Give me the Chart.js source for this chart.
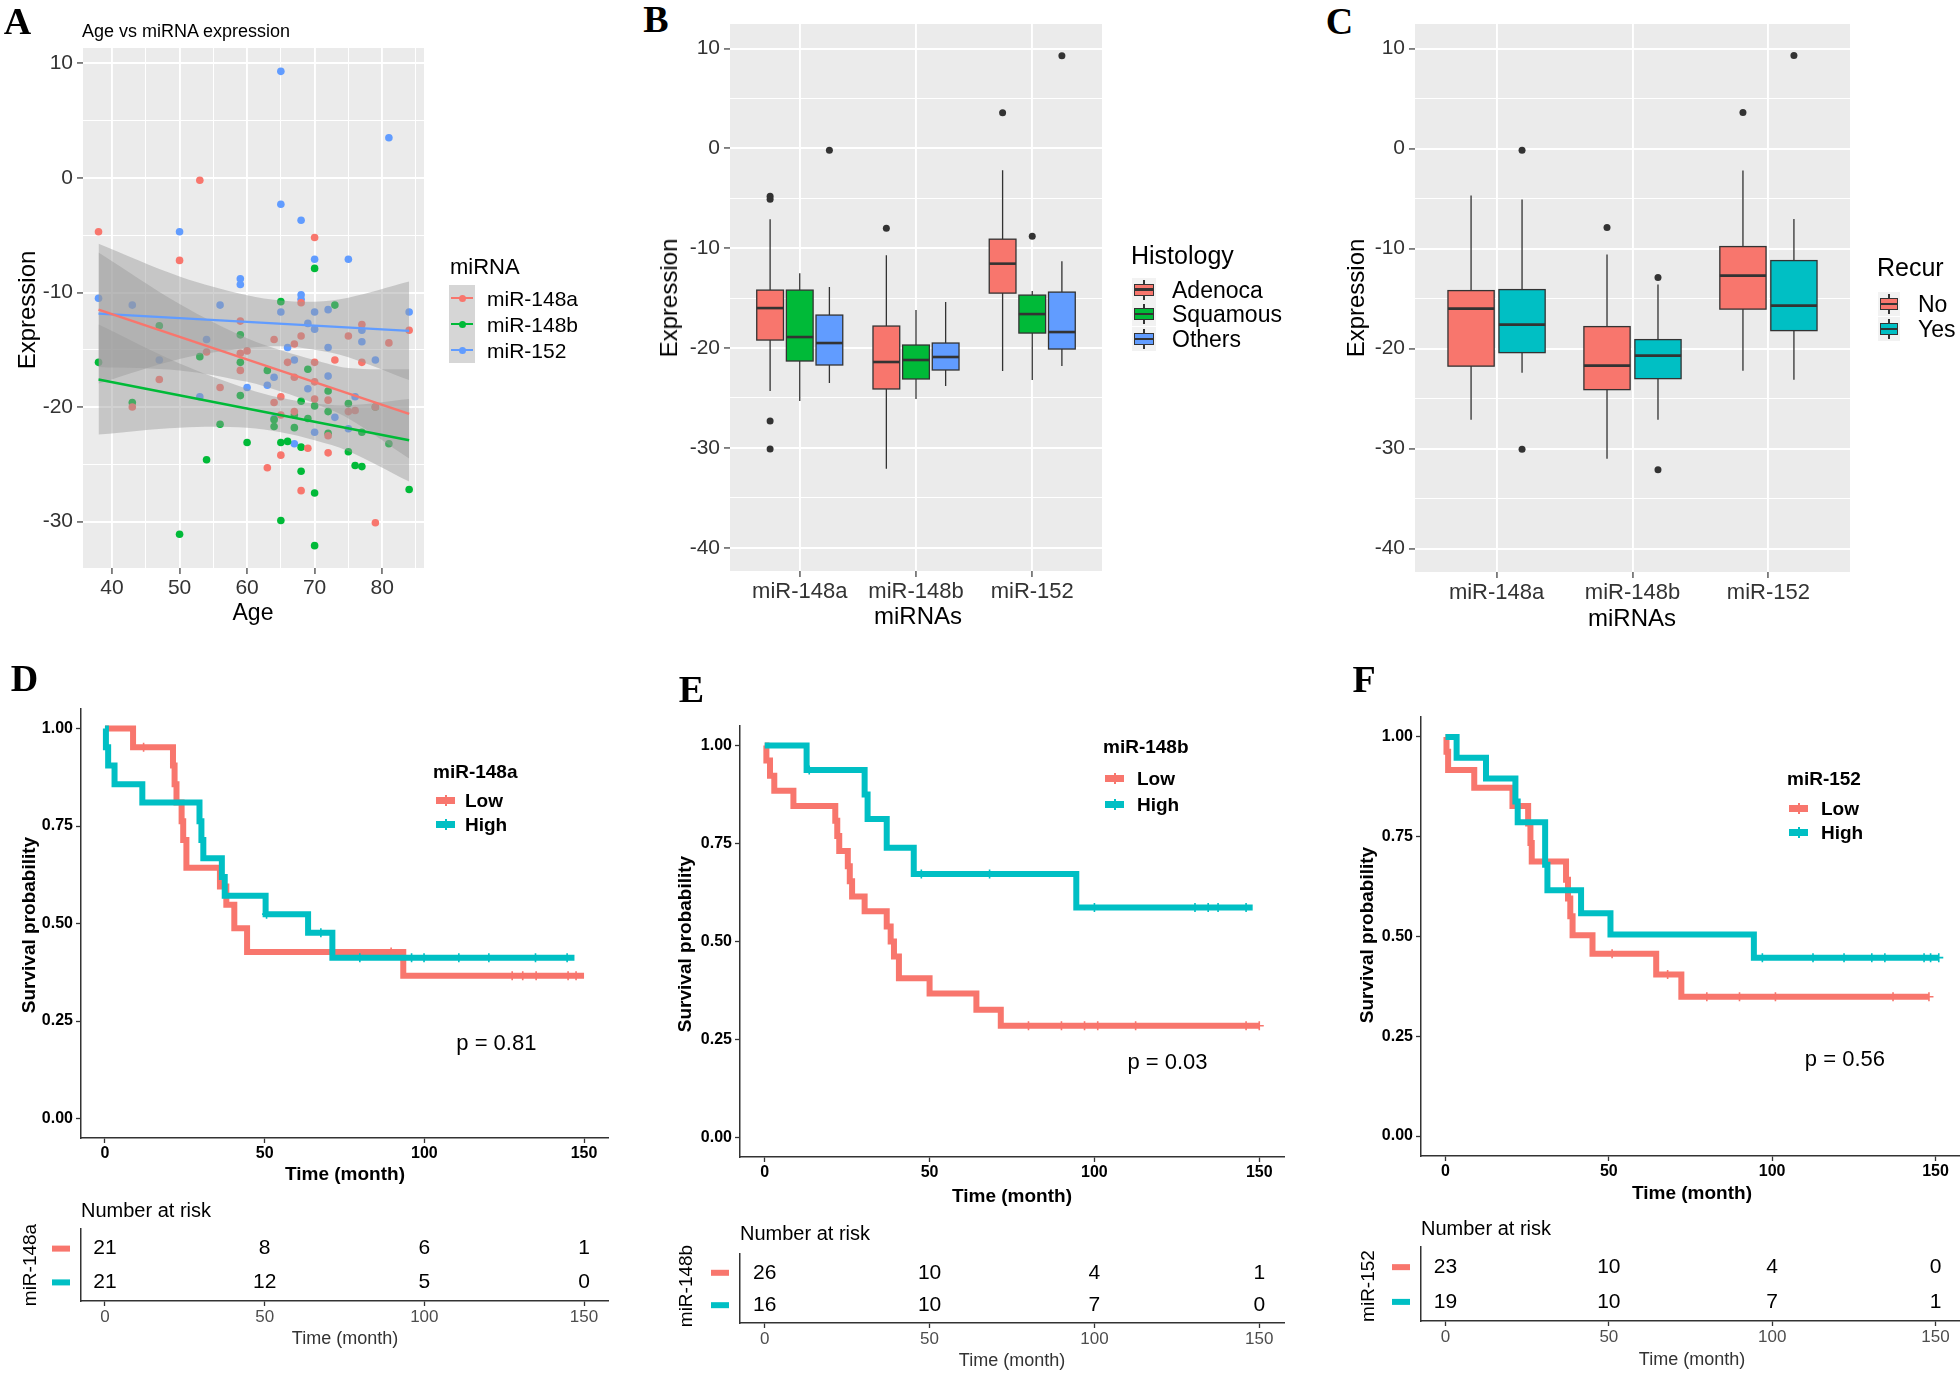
<!DOCTYPE html>
<html>
<head>
<meta charset="utf-8">
<script src="https://cdn.jsdelivr.net/npm/chart.js@4.4.1/dist/chart.umd.min.js"></script>
<style>
  html, body { margin: 0; padding: 0; background: #fff; overflow: hidden; }
  #fig { position: relative; width: 1960px; height: 1374px; overflow: hidden; }
  canvas { position: absolute; }
  .t { position: absolute; white-space: nowrap; color: #000; }
  .k { position: absolute; }
</style>
</head>
<body>
<div id="fig">
  <canvas id="cA"></canvas>
  <canvas id="cB"></canvas>
  <canvas id="cC"></canvas>
  <canvas id="cD"></canvas>
  <canvas id="cDT"></canvas>
  <canvas id="cE"></canvas>
  <canvas id="cET"></canvas>
  <canvas id="cF"></canvas>
  <canvas id="cFT"></canvas>
</div>
<script>
// ── Colours ──
const RED = '#F8766D', GREEN = '#00BA38', BLUE = '#619CFF', TEAL = '#00BFC4';
const BAND = 'rgba(153, 153, 153, 0.45)';
const SANS = "'Liberation Sans', Arial, sans-serif";

// ── Panel A: age vs expression ──
const age148a = [38, 50, 53, 43, 47, 54, 56, 59, 59, 59, 60, 63, 64, 64, 65, 65, 65, 66, 67, 67, 67, 68, 68, 68, 69, 70, 70, 70, 70, 72, 72, 72, 73, 75, 75, 76, 77, 77, 79, 79, 81, 84];
const expr148a = [-4.7, -7.2, -0.2, -20, -17.6, -15.2, -18.3, -12.5, -15.3, -16.8, -15.1, -25.3, -14.1, -19.6, -19.1, -20.7, -24.2, -16.1, -14.5, -17.4, -20.4, -13.8, -10.9, -27.3, -23.6, -5.2, -16.1, -17.8, -19.3, -22.5, -24, -19.4, -15.9, -13.8, -20.4, -20.3, -12.8, -16.1, -20, -30.1, -14.4, -13.3];
const age148b = [38, 43, 47, 50, 53, 54, 56, 59, 59, 59, 60, 63, 64, 64, 65, 65, 65, 66, 67, 67, 68, 68, 68, 69, 69, 70, 70, 70, 70, 72, 72, 72, 73, 75, 75, 76, 77, 77, 79, 81, 84];
const expr148b = [-16.1, -19.6, -12.9, -31.1, -15.6, -24.6, -21.5, -13.7, -16.1, -19, -23.1, -16.8, -21.7, -21.1, -10.8, -23.1, -29.9, -23, -20.7, -21.8, -19.5, -23.5, -25.6, -16.7, -21, -7.9, -19.9, -27.5, -32.1, -18.6, -20.4, -22.3, -11.1, -19.7, -23.9, -25.1, -25.2, -22.2, -20, -23.2, -27.2];
const age152 = [38, 43, 47, 50, 53, 54, 56, 59, 59, 60, 63, 64, 64, 65, 65, 65, 66, 67, 67, 68, 68, 68, 69, 69, 70, 70, 70, 70, 72, 72, 72, 73, 75, 75, 76, 77, 77, 79, 81, 84];
const expr152 = [-10.5, -11.1, -15.9, -4.7, -19.1, -14.1, -11.1, -8.8, -9.3, -18.3, -18.1, -17.4, -21, 9.3, -2.3, -11.7, -14.8, -15.9, -23.2, -3.7, -10.2, -10.6, -12.7, -18.4, -7.1, -11.7, -13.2, -22.2, -11.5, -14.8, -17.3, -20.9, -7.1, -21.9, -19.1, -13.3, -14.3, -15.9, 3.5, -11.7];

// fitted lines and their confidence bands
const fitAges = [38, 84];
const fit148a = [-11.5, -20.6];
const fit148b = [-17.6, -22.9];
const fit152 = [-11.85, -13.35];
const bandAges = [38, 50, 60, 65, 70, 75, 84];
const up148a = [-6.5, -11.0, -14.0, -15.05, -15.9, -16.6, -16.7];
const lo148a = [-16.5, -16.8, -17.8, -18.65, -19.7, -21.0, -24.5];
const up148b = [-12.8, -16.2, -18.4, -19.2, -19.7, -19.85, -19.3];
const lo148b = [-22.4, -21.8, -21.8, -22.2, -22.9, -23.85, -26.5];
const up152 = [-5.75, -8.6, -10.25, -10.7, -10.8, -10.45, -9.05];
const lo152 = [-17.95, -15.8, -14.85, -14.7, -15.0, -15.65, -17.65];

// ── Panels B and C: box plots ──
const mirnas = ['miR-148a', 'miR-148b', 'miR-152'];
// Histology (B)
const adenoLo = [-24.3, -32.1, -22.3], adenoQ1 = [-19.2, -24.1, -14.5], adenoMed = [-16.0, -21.4, -11.55], adenoQ3 = [-14.2, -17.8, -9.1], adenoHi = [-7.1, -10.7, -2.2];
const squamLo = [-25.3, -25.1, -23.2], squamQ1 = [-21.3, -23.1, -18.5], squamMed = [-18.9, -21.2, -16.6], squamQ3 = [-14.2, -19.7, -14.7], squamHi = [-12.5, -16.2, -14.3];
const otherLo = [-23.5, -23.8, -21.8], otherQ1 = [-21.7, -22.2, -20.1], otherMed = [-19.5, -20.9, -18.4], otherQ3 = [-16.7, -19.5, -14.4], otherHi = [-13.9, -15.4, -11.3];
const adenoOutCat = [0, 0, 0, 0, 1, 2], adenoOutVal = [-4.8, -5.1, -27.3, -30.1, -8.0, 3.55];
const squamOutCat = [2], squamOutVal = [-8.8];
const otherOutCat = [0, 2], otherOutVal = [-0.2, 9.27];
// Recurrence (C)
const noLo = [-27.1, -31.0, -22.2], noQ1 = [-21.75, -24.1, -16.05], noMed = [-16.0, -21.7, -12.7], noQ3 = [-14.2, -17.8, -9.8], noHi = [-4.7, -10.6, -2.2];
const yesLo = [-22.4, -27.1, -23.1], yesQ1 = [-20.4, -23.0, -18.2], yesMed = [-17.6, -20.7, -15.7], yesQ3 = [-14.1, -19.1, -11.2], yesHi = [-5.1, -13.6, -7.05];
const noOutCat = [1, 2], noOutVal = [-7.9, 3.6];
const yesOutCat = [0, 0, 1, 1, 2], yesOutVal = [-0.16, -30.06, -12.9, -32.1, 9.3];

// ── Panels D-F: Kaplan-Meier steps (time in months, survival) ──
const dLowT = [0, 8.8, 21.3, 21.8, 22.4, 24.0, 24.5, 25.5, 36.0, 38.0, 40.5, 44.5, 93.4, 150];
const dLowS = [1.0, 0.952, 0.905, 0.857, 0.810, 0.762, 0.714, 0.643, 0.595, 0.548, 0.488, 0.427, 0.366, 0.366];
const dHighT = [0, 0.3, 1.0, 3.0, 11.7, 29.6, 30.2, 30.8, 36.6, 37.5, 50.3, 63.6, 71.2, 147];
const dHighS = [1.0, 0.952, 0.905, 0.857, 0.810, 0.762, 0.714, 0.667, 0.619, 0.571, 0.524, 0.476, 0.412, 0.412];
const dLowCensT = [12.1, 89.6, 127.5, 130.8, 135, 145, 147.5];
const dLowCensS = [0.952, 0.427, 0.366, 0.366, 0.366, 0.366, 0.366];
const dHighCensT = [50.6, 67.6, 79.8, 96, 99.9, 110.8, 120.2, 134.8, 144.7];
const dHighCensS = [0.524, 0.476, 0.412, 0.412, 0.412, 0.412, 0.412, 0.412, 0.412];

const eLowT = [0, 0.5, 1.6, 2.9, 8.7, 21.4, 22.0, 22.6, 25.2, 25.8, 26.5, 30.3, 37.0, 38.2, 39.2, 40.7, 50.0, 64.2, 71.6, 150];
const eLowS = [1.0, 0.962, 0.923, 0.885, 0.846, 0.808, 0.769, 0.731, 0.692, 0.654, 0.615, 0.577, 0.538, 0.500, 0.462, 0.406, 0.367, 0.326, 0.285, 0.285];
const eHighT = [0, 12.7, 30.3, 31.2, 37.0, 45.2, 94.5, 148];
const eHighS = [1.0, 0.938, 0.875, 0.8125, 0.739, 0.672, 0.587, 0.587];
const eLowCensT = [80, 90, 97, 101, 112.5, 146, 150];
const eLowCensS = [0.285, 0.285, 0.285, 0.285, 0.285, 0.285, 0.285];
const eHighCensT = [13.5, 47.5, 68.2, 100, 130.5, 134.5, 137.5, 146];
const eHighCensS = [0.938, 0.672, 0.672, 0.587, 0.587, 0.587, 0.587, 0.587];

const fLowT = [0, 0.3, 0.8, 8.8, 20.5, 25.3, 26.0, 26.4, 36.9, 37.5, 38.2, 38.9, 45.0, 64.5, 72.2, 148];
const fLowS = [1.0, 0.963, 0.917, 0.873, 0.827, 0.783, 0.734, 0.688, 0.642, 0.595, 0.551, 0.503, 0.457, 0.405, 0.349, 0.349];
const fHighT = [0, 3.4, 12.4, 21.4, 22.1, 30.5, 31.2, 41.5, 50.5, 94.4, 151];
const fHighS = [1.0, 0.948, 0.896, 0.838, 0.786, 0.680, 0.616, 0.558, 0.505, 0.447, 0.447];
const fLowCensT = [51, 68, 80, 90, 101, 137, 148];
const fLowCensS = [0.457, 0.405, 0.349, 0.349, 0.349, 0.349, 0.349];
const fHighCensT = [97, 112.5, 122, 130.5, 134.5, 146.5, 148.5, 151];
const fHighCensS = [0.447, 0.447, 0.447, 0.447, 0.447, 0.447, 0.447, 0.447];

// numbers at risk
const riskTimes = [0, 50, 100, 150];
const dRiskLow = [21, 8, 6, 1], dRiskHigh = [21, 12, 5, 0];
const eRiskLow = [26, 10, 4, 1], eRiskHigh = [16, 10, 7, 0];
const fRiskLow = [23, 10, 4, 0], fRiskHigh = [19, 10, 7, 1];
const pvalues = ['p = 0.81', 'p = 0.03', 'p = 0.56'];
const pvalAt = [110, 0.19];

// ── Chart.js defaults ──
Chart.defaults.font.family = SANS;
Chart.defaults.color = '#333';
Chart.defaults.animation = false;
Chart.defaults.responsive = false;
Chart.defaults.maintainAspectRatio = false;
Chart.defaults.plugins.legend.display = false;
Chart.defaults.plugins.tooltip.enabled = false;

// grey panel behind the plot area
const panelBg = {
  id: 'panelBg',
  beforeDraw(chart, args, opts) {
    if (!opts.color) return;
    const a = chart.chartArea, ctx = chart.ctx;
    ctx.save();
    ctx.fillStyle = opts.color;
    ctx.fillRect(a.left, a.top, a.width, a.height);
    ctx.restore();
  }
};

// ggplot-like axis: white major/minor grid, labels on majors only
function ggScale(min, max, step, major, fmt, size, fit, axis) {
  const isMajor = v => Math.abs(v / major - Math.round(v / major)) < 1e-6;
  return {
    type: 'linear', min, max,
    afterFit: s => { if (axis === 'x') s.height = fit; else s.width = fit; },
    ticks: {
      stepSize: step, includeBounds: false, autoSkip: false, maxRotation: 0,
      color: '#333', padding: axis === 'x' ? 2 : 4, font: { size },
      callback: v => isMajor(v) ? fmt(v) : ''
    },
    grid: {
      color: '#FFFFFF',
      lineWidth: c => (c.tick && !isMajor(c.tick.value)) ? 1 : 1.9,
      tickLength: 6, tickWidth: 1.2,
      tickColor: c => (c.tick && !isMajor(c.tick.value)) ? 'rgba(0,0,0,0)' : '#333'
    },
    border: { display: false }
  };
}

// survminer-like axis: plain axis line with ticks
function kmScale(min, max, step, fmt, font, color, fit, axis, showTicks = true) {
  return {
    type: 'linear', min, max,
    afterFit: s => { if (axis === 'x') s.height = fit; else s.width = fit; },
    ticks: {
      display: showTicks, stepSize: step, includeBounds: false, autoSkip: false, maxRotation: 0,
      color, padding: axis === 'x' ? 1 : 3, font, callback: fmt
    },
    grid: { drawOnChartArea: false, drawTicks: showTicks, tickLength: 5, tickWidth: 1.3, tickColor: '#333' },
    border: { display: true, color: '#333', width: 1.5 }
  };
}

function pts(xs, ys) { return xs.map((x, i) => ({ x, y: ys[i] })); }

// build the chart twice: once to learn its margins, then sized so the plot area lands on box
function placeChart(id, box, build) {
  const cv = document.getElementById(id);
  cv.width = 400; cv.height = 300;
  const probe = new Chart(cv, build());
  const a = probe.chartArea;
  const ml = a.left, mt = a.top, mr = probe.width - a.right, mb = probe.height - a.bottom;
  probe.destroy();
  const w = Math.round(box[2] - box[0] + ml + mr), h = Math.round(box[3] - box[1] + mt + mb);
  cv.width = w; cv.height = h;
  cv.style.width = w + 'px'; cv.style.height = h + 'px';
  cv.style.left = (box[0] - ml) + 'px';
  cv.style.top = (box[1] - mt) + 'px';
  return new Chart(cv, build());
}

// ── Panel A ──
function bandEdge(ys, fill) {
  return { type: 'line', data: pts(bandAges, ys), borderWidth: 0, pointRadius: 0, tension: 0.35,
           fill, backgroundColor: BAND, order: 2 };
}
function fitLine(ys, color) {
  return { type: 'line', data: pts(fitAges, ys), borderColor: color, borderWidth: 2.4, pointRadius: 0, order: 1 };
}
function dots(xs, ys, color) {
  return { type: 'scatter', data: pts(xs, ys), backgroundColor: color, borderWidth: 0, pointRadius: 3.8, order: 3 };
}

placeChart('cA', [83, 48, 424, 568], () => ({
  type: 'scatter',
  data: { datasets: [
    dots(age148a, expr148a, RED), dots(age148b, expr148b, GREEN), dots(age152, expr152, BLUE),
    fitLine(fit148a, RED), fitLine(fit148b, GREEN), fitLine(fit152, BLUE),
    bandEdge(up148a, false), bandEdge(lo148a, '-1'),
    bandEdge(up148b, false), bandEdge(lo148b, '-1'),
    bandEdge(up152, false), bandEdge(lo152, '-1')
  ] },
  options: {
    layout: { padding: { top: 20, right: 30 } },
    scales: {
      x: ggScale(35.7, 86.2, 5, 10, v => String(v), 21, 40, 'x'),
      y: ggScale(-34.05, 11.34, 5, 10, v => String(v), 21, 60, 'y')
    },
    plugins: { panelBg: { color: '#EBEBEB' } }
  },
  plugins: [panelBg]
}));

// ── Panels B, C ──
function boxPlugin(groups) {
  return {
    id: 'boxes',
    beforeDatasetsDraw(chart) {
      const { ctx, scales: { x, y } } = chart;
      ctx.save();
      ctx.strokeStyle = '#333';
      groups.forEach(g => {
        g.med.forEach((m, i) => {
          const c = i + 1 + g.offset;
          const xl = x.getPixelForValue(c - g.width / 2), xr = x.getPixelForValue(c + g.width / 2), xc = x.getPixelForValue(c);
          const top = y.getPixelForValue(g.q3[i]), bot = y.getPixelForValue(g.q1[i]);
          ctx.lineWidth = 1.3;
          ctx.beginPath();
          ctx.moveTo(xc, y.getPixelForValue(g.hi[i])); ctx.lineTo(xc, top);
          ctx.moveTo(xc, bot); ctx.lineTo(xc, y.getPixelForValue(g.lo[i]));
          ctx.stroke();
          ctx.fillStyle = g.color;
          ctx.fillRect(xl, top, xr - xl, bot - top);
          ctx.strokeRect(xl, top, xr - xl, bot - top);
          ctx.lineWidth = 2.6;
          ctx.beginPath();
          const ym = y.getPixelForValue(m);
          ctx.moveTo(xl, ym); ctx.lineTo(xr, ym);
          ctx.stroke();
        });
      });
      ctx.restore();
    }
  };
}

function boxChart(groups) {
  return () => ({
    type: 'scatter',
    data: { datasets: groups.map(g => ({
      data: g.outCat.map((c, i) => ({ x: c + 1 + g.offset, y: g.outVal[i] })),
      backgroundColor: '#333', borderWidth: 0, pointRadius: 3.5
    })) },
    options: {
      layout: { padding: { top: 20, right: 30 } },
      scales: {
        x: ggScale(0.4, 3.6, 1, 1, v => mirnas[v - 1], 22, 40, 'x'),
        y: ggScale(-42.33, 12.45, 5, 10, v => String(v), 21, 60, 'y')
      },
      plugins: { panelBg: { color: '#EBEBEB' } }
    },
    plugins: [panelBg, boxPlugin(groups)]
  });
}

placeChart('cB', [729.5, 24, 1101, 571], boxChart([
  { color: RED, offset: -0.255, width: 0.23, lo: adenoLo, q1: adenoQ1, med: adenoMed, q3: adenoQ3, hi: adenoHi, outCat: adenoOutCat, outVal: adenoOutVal },
  { color: GREEN, offset: 0, width: 0.23, lo: squamLo, q1: squamQ1, med: squamMed, q3: squamQ3, hi: squamHi, outCat: squamOutCat, outVal: squamOutVal },
  { color: BLUE, offset: 0.255, width: 0.23, lo: otherLo, q1: otherQ1, med: otherMed, q3: otherQ3, hi: otherHi, outCat: otherOutCat, outVal: otherOutVal }
]));

placeChart('cC', [1415, 24, 1850, 572], boxChart([
  { color: RED, offset: -0.1875, width: 0.34, lo: noLo, q1: noQ1, med: noMed, q3: noQ3, hi: noHi, outCat: noOutCat, outVal: noOutVal },
  { color: TEAL, offset: 0.1875, width: 0.34, lo: yesLo, q1: yesQ1, med: yesMed, q3: yesQ3, hi: yesHi, outCat: yesOutCat, outVal: yesOutVal }
]));

// ── Panels D, E, F: survival curves ──
function pvalPlugin(text) {
  return {
    id: 'pval',
    afterDraw(chart) {
      const { ctx, scales: { x, y } } = chart;
      ctx.save();
      ctx.font = '22px ' + SANS;
      ctx.fillStyle = '#000';
      ctx.textAlign = 'left';
      ctx.textBaseline = 'middle';
      ctx.fillText(text, x.getPixelForValue(pvalAt[0]), y.getPixelForValue(pvalAt[1]));
      ctx.restore();
    }
  };
}

function kmChart(lowT, lowS, highT, highS, lowCT, lowCS, highCT, highCS, ptext) {
  const curve = (T, S, color) => ({ type: 'line', data: pts(T, S), stepped: 'before', borderColor: color,
                                    borderWidth: 6, pointRadius: 0, fill: false, borderCapStyle: 'butt' });
  const cens = (T, S, color) => ({ type: 'scatter', data: pts(T, S), pointStyle: 'cross', pointRadius: 4.5,
                                   borderColor: color, borderWidth: 1.6, backgroundColor: color });
  return () => ({
    type: 'scatter',
    data: { datasets: [
      cens(highCT, highCS, TEAL), curve(highT, highS, TEAL),
      cens(lowCT, lowCS, RED), curve(lowT, lowS, RED)
    ] },
    options: {
      layout: { padding: { top: 20, right: 30 } },
      scales: {
        x: kmScale(-7.5, 157.5, 50, v => String(v), { size: 16, weight: 'bold' }, '#000', 30, 'x'),
        y: kmScale(-0.05, 1.05, 0.25, v => v.toFixed(2), { size: 16, weight: 'bold' }, '#000', 60, 'y')
      }
    },
    plugins: [pvalPlugin(ptext)]
  });
}

function riskPlugin(low, high) {
  return {
    id: 'risk',
    afterDraw(chart) {
      const { ctx, scales: { x, y }, chartArea } = chart;
      ctx.save();
      ctx.font = '21px ' + SANS;
      ctx.fillStyle = '#000';
      ctx.textAlign = 'center';
      ctx.textBaseline = 'middle';
      riskTimes.forEach((t, i) => {
        ctx.fillText(String(low[i]), x.getPixelForValue(t), y.getPixelForValue(2));
        ctx.fillText(String(high[i]), x.getPixelForValue(t), y.getPixelForValue(1));
      });
      ctx.fillStyle = RED;
      ctx.fillRect(chartArea.left - 29, y.getPixelForValue(2) - 3, 18, 6);
      ctx.fillStyle = TEAL;
      ctx.fillRect(chartArea.left - 29, y.getPixelForValue(1) - 3, 18, 6);
      ctx.restore();
    }
  };
}

function riskChart(low, high) {
  return () => ({
    type: 'scatter',
    data: { datasets: [] },
    options: {
      layout: { padding: { top: 20, right: 30 } },
      scales: {
        x: kmScale(-7.5, 157.5, 50, v => String(v), { size: 17 }, '#4D4D4D', 30, 'x'),
        y: kmScale(0.45, 2.58, 1, v => '', { size: 12 }, '#000', 45, 'y', false)
      }
    },
    plugins: [riskPlugin(low, high)]
  });
}

placeChart('cD', [81, 709, 608, 1138], kmChart(dLowT, dLowS, dHighT, dHighS, dLowCensT, dLowCensS, dHighCensT, dHighCensS, pvalues[0]));
placeChart('cDT', [81, 1229, 608, 1301], riskChart(dRiskLow, dRiskHigh));
placeChart('cE', [740, 726, 1284, 1157], kmChart(eLowT, eLowS, eHighT, eHighS, eLowCensT, eLowCensS, eHighCensT, eHighCensS, pvalues[1]));
placeChart('cET', [740, 1253.6, 1284, 1323], riskChart(eRiskLow, eRiskHigh));
placeChart('cF', [1421, 716.5, 1960, 1155], kmChart(fLowT, fLowS, fHighT, fHighS, fLowCensT, fLowCensS, fHighCensT, fHighCensS, pvalues[2]));
placeChart('cFT', [1421, 1246.7, 1960, 1321], riskChart(fRiskLow, fRiskHigh));

// ── Text, titles and legends ──
const fig = document.getElementById('fig');
function txt(s, x, y, font, o = {}) {
  const d = document.createElement('div');
  d.className = 't';
  d.textContent = s;
  d.style.font = font;
  d.style.lineHeight = '1';
  d.style.left = x + 'px';
  d.style.top = y + 'px';
  if (o.color) d.style.color = o.color;
  d.style.transform = 'translate(' + (o.left ? '0' : '-50%') + ',-50%)' + (o.rot ? ' rotate(-90deg)' : '');
  fig.appendChild(d);
}
function rect(x, y, w, h, bg, extra = {}) {
  const d = document.createElement('div');
  d.className = 'k';
  Object.assign(d.style, { left: x + 'px', top: y + 'px', width: w + 'px', height: h + 'px', background: bg }, extra);
  fig.appendChild(d);
  return d;
}

const LETTER = "bold 38px 'Liberation Serif', 'Times New Roman', serif";
txt('A', 17.5, 21, LETTER);
txt('B', 656, 19, LETTER);
txt('C', 1339.5, 21, LETTER);
txt('D', 24.5, 678, LETTER);
txt('E', 691.5, 689, LETTER);
txt('F', 1364, 679, LETTER);

// A
txt('Age vs miRNA expression', 82, 31, '18px ' + SANS, { left: true });
txt('Expression', 27, 310, '24px ' + SANS, { rot: true });
txt('Age', 253, 612, '23px ' + SANS);
txt('miRNA', 450, 267, '22px ' + SANS, { left: true });
[['miR-148a', RED], ['miR-148b', GREEN], ['miR-152', BLUE]].forEach(([name, col], i) => {
  const cy = 298 + i * 26;
  rect(449, cy - 13, 26, 26, '#D6D6D6');
  rect(451, cy - 1, 22, 2.4, col);
  rect(458.5, cy - 3.5, 7, 7, col, { borderRadius: '50%' });
  txt(name, 487, cy, '21px ' + SANS, { left: true });
});

// B, C
function boxKey(x, cy, w, col) {
  rect(x, cy - 12, w, 24, '#F2F2F2');
  rect(x + w / 2 - 0.6, cy - 10, 1.3, 20, '#333');
  rect(x + 2, cy - 6, w - 4, 12, col, { border: '1.2px solid #333', boxSizing: 'border-box' });
  rect(x + 2, cy - 1.2, w - 4, 2.4, '#333');
}
txt('Expression', 669, 298, '24px ' + SANS, { rot: true });
txt('miRNAs', 918, 616, '24px ' + SANS);
txt('Histology', 1131, 255, '25px ' + SANS, { left: true });
[['Adenoca', RED], ['Squamous', GREEN], ['Others', BLUE]].forEach(([name, col], i) => {
  const cy = 289.5 + i * 24.8;
  boxKey(1132, cy, 24, col);
  txt(name, 1172, cy, '23px ' + SANS, { left: true });
});
txt('Expression', 1356, 298, '24px ' + SANS, { rot: true });
txt('miRNAs', 1632, 618, '24px ' + SANS);
txt('Recur', 1877, 267, '25px ' + SANS, { left: true });
[['No', RED], ['Yes', TEAL]].forEach(([name, col], i) => {
  const cy = 304 + i * 25;
  boxKey(1878, cy, 22, col);
  txt(name, 1918, cy, '23px ' + SANS, { left: true });
});

// D, E, F
const BOLD19 = 'bold 19px ' + SANS;
function kmLegend(title, tx, ty, kx, ly, lx) {
  txt(title, tx, ty, BOLD19, { left: true });
  [['Low', RED], ['High', TEAL]].forEach(([name, col], i) => {
    rect(kx, ly[i] - 3.5, 19, 7, col);
    rect(kx + 8.5, ly[i] - 5.5, 2, 11, col);
    txt(name, lx, ly[i], BOLD19, { left: true });
  });
}
function kmTexts(o) {
  txt('Survival probability', o.yx, o.yy, BOLD19, { rot: true });
  txt('Time (month)', o.xx, o.xy, BOLD19);
  txt('Number at risk', o.nx, o.ny, '20px ' + SANS, { left: true });
  txt(o.name, o.yx + 1, o.ty, '19px ' + SANS, { rot: true });
  txt('Time (month)', o.xx, o.txy, '18px ' + SANS, { color: '#333' });
}
kmTexts({ yx: 28, yy: 925, xx: 345, xy: 1173, nx: 81, ny: 1210, name: 'miR-148a', ty: 1265, txy: 1338 });
kmLegend('miR-148a', 433, 771, 436, [800, 824], 465);
kmTexts({ yx: 684, yy: 944, xx: 1012, xy: 1195, nx: 740, ny: 1233, name: 'miR-148b', ty: 1286, txy: 1360 });
kmLegend('miR-148b', 1103, 746, 1105, [778, 804], 1137);
kmTexts({ yx: 1366, yy: 935, xx: 1692, xy: 1192, nx: 1421, ny: 1228, name: 'miR-152', ty: 1286, txy: 1359 });
kmLegend('miR-152', 1787, 778, 1789, [808, 832], 1821);
</script>
</body>
</html>
